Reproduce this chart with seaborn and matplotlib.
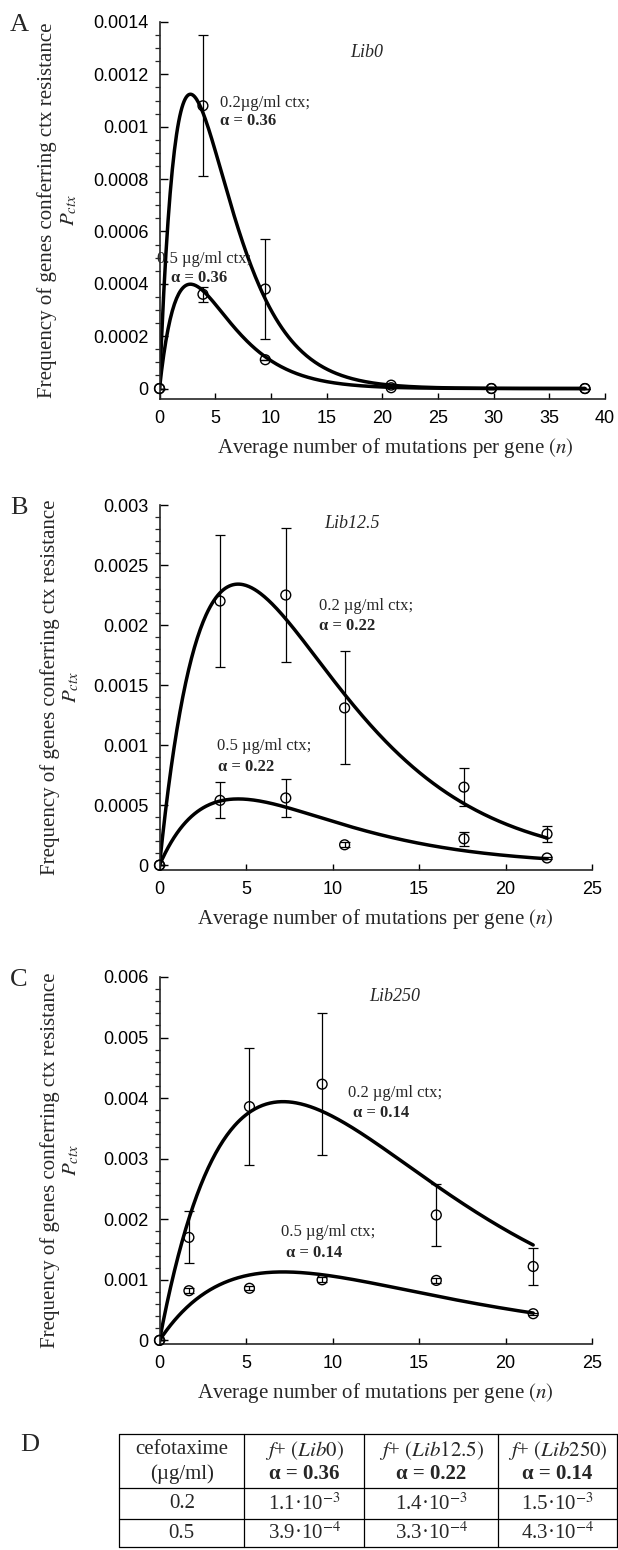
import numpy as np
import pandas as pd
import seaborn as sns
import matplotlib.pyplot as plt
from matplotlib.ticker import MultipleLocator, FuncFormatter

# ---- data ----
libs = ['Lib0', 'Lib12.5', 'Lib250']
alpha = [0.36, 0.22, 0.14]
conc = ['0.2', '0.5']
# f+ values from table D (per library)
f_plus_02 = [1.1e-3, 1.4e-3, 1.5e-3]
f_plus_05 = [3.9e-4, 3.3e-4, 4.3e-4]

# Lib0
n_lib0 = [0, 3.9, 9.5, 20.8, 29.8, 38.2]
p_lib0_02 = [0, 0.00108, 0.00038, 0.000013, 0, 0]
err_lib0_02 = [0, 0.00027, 0.00019, 0, 0, 0]
p_lib0_05 = [0, 0.00036, 0.00011, 0.000003, 0, 0]
err_lib0_05 = [0, 0.000028, 0, 0, 0, 0]

# Lib12.5
n_lib12 = [0, 3.5, 7.3, 10.7, 17.6, 22.4]
p_lib12_02 = [0, 0.00220, 0.00225, 0.00131, 0.00065, 0.00026]
err_lib12_02 = [0, 0.00055, 0.00056, 0.00047, 0.00016, 0.00007]
p_lib12_05 = [0, 0.00054, 0.00056, 0.00017, 0.00022, 0.00006]
err_lib12_05 = [0, 0.00015, 0.00016, 0.00002, 0.00006, 0.00001]

# Lib250
n_lib250 = [0, 1.7, 5.2, 9.4, 16.0, 21.6]
p_lib250_02 = [0, 0.00170, 0.00386, 0.00423, 0.00207, 0.00122]
err_lib250_02 = [0, 0.00043, 0.00097, 0.00117, 0.00052, 0.00031]
p_lib250_05 = [0, 0.00082, 0.00086, 0.00100, 0.00099, 0.00044]
err_lib250_05 = [0, 0.00004, 0.00003, 0.00004, 0.00004, 0.00002]

n_all = [n_lib0, n_lib12, n_lib250]
p02_all = [p_lib0_02, p_lib12_02, p_lib250_02]
e02_all = [err_lib0_02, err_lib12_02, err_lib250_02]
p05_all = [p_lib0_05, p_lib12_05, p_lib250_05]
e05_all = [err_lib0_05, err_lib12_05, err_lib250_05]

# ---- style ----
sns.set_style('ticks')
plt.rcParams['font.family'] = ['Liberation Sans', 'DejaVu Sans']
plt.rcParams['mathtext.fontset'] = 'stix'
SERIF = ['Liberation Serif', 'DejaVu Serif']

W, H = 618, 1550
fig = plt.figure(figsize=(W / 100, H / 100), dpi=100)


def px_axes(l, t, r, b):
    return fig.add_axes([l / W, 1 - b / H, (r - l) / W, (b - t) / H])


# layout per panel (pixel boxes, limits, ticks, annotation spots)
layout = [
    dict(letter='A', box=(159.5, 22, 605, 399), xmax=40, ylim=(-0.00004, 0.0014),
         ymaj=0.0002, ymin=0.00005, lib_xy=(18.6, 0.001285), xlab_x=0.53,
         t02='0.2µg/ml ctx;', t02_xy=(5.4, 0.00109), a02_xy=(5.4, 0.00102),
         t05_xy=(-0.2, 0.000495), a05_xy=(1.0, 0.000422)),
    dict(letter='B', box=(159.5, 505, 592, 870), xmax=25, ylim=(-0.00004, 0.003),
         ymaj=0.0005, ymin=0.0001, lib_xy=(11.1, 0.00285), xlab_x=0.5,
         t02='0.2 µg/ml ctx;', t02_xy=(9.2, 0.00216), a02_xy=(9.2, 0.00199),
         t05_xy=(3.35, 0.00099), a05_xy=(3.4, 0.00082)),
    dict(letter='C', box=(159.5, 977, 592, 1344), xmax=25, ylim=(-0.00006, 0.006),
         ymaj=0.001, ymin=0.0002, lib_xy=(13.6, 0.00567), xlab_x=0.5,
         t02='0.2 µg/ml ctx;', t02_xy=(10.9, 0.00409), a02_xy=(11.2, 0.00376),
         t05_xy=(7.0, 0.00179), a05_xy=(7.3, 0.00145)),
]

fmt = FuncFormatter(lambda v, pos: '{:g}'.format(round(v, 6)))

for i, L in enumerate(layout):
    ax = px_axes(*L['box'])
    n = n_all[i]
    # model curves P = f+ * n * exp(-alpha n) using the table parameters
    grid = np.linspace(0, max(n), 400)
    for fp in (f_plus_02[i], f_plus_05[i]):
        curve = pd.DataFrame({'n': grid, 'P': fp * grid * np.exp(-alpha[i] * grid)})
        sns.lineplot(data=curve, x='n', y='P', ax=ax, color='black', lw=2.5)
    for p, e in ((p02_all[i], e02_all[i]), (p05_all[i], e05_all[i])):
        ax.errorbar(n, p, yerr=e, fmt='none', ecolor='black', elinewidth=0.9,
                    capsize=3.3, capthick=0.9, zorder=2)
        sns.scatterplot(x=n, y=p, ax=ax, marker='o', s=50, facecolor='none',
                        edgecolor='black', linewidth=1.0, zorder=3, clip_on=False)

    ax.set_xlim(0, L['xmax'])
    ax.set_ylim(*L['ylim'])
    ax.xaxis.set_major_locator(MultipleLocator(5))
    ax.yaxis.set_major_locator(MultipleLocator(L['ymaj']))
    ax.yaxis.set_minor_locator(MultipleLocator(L['ymin']))
    ax.yaxis.set_major_formatter(fmt)
    ax.set_yticks([t for t in ax.get_yticks() if -1e-9 <= t <= L['ylim'][1] + 1e-9])
    ax.set_ylim(*L['ylim'])
    ax.tick_params(axis='both', direction='in', labelsize=13, width=1, colors='black')
    ax.tick_params(axis='y', which='major', length=6, pad=8)
    ax.tick_params(axis='y', which='minor', length=3.5, width=0.9)
    ax.tick_params(axis='x', which='major', length=4.5, pad=8)
    sns.despine(ax=ax)
    for s in ('left', 'bottom'):
        ax.spines[s].set_linewidth(1.2)

    box_h = L['box'][3] - L['box'][1]
    ax.set_xlabel('Average number of mutations per gene $\\mathit{(n)}$',
                  family=SERIF, fontsize=15)
    ax.xaxis.set_label_coords(L['xlab_x'], -37 / box_h)
    ax.set_ylabel('Frequency of genes conferring ctx resistance\n$P_{ctx}$',
                  family=SERIF, fontsize=15, linespacing=1.15)
    ax.yaxis.set_label_coords(-0.18, 0.5)

    ax.text(*L['lib_xy'], libs[i], family=SERIF, style='italic', fontsize=13,
            ha='center', va='center')
    ax.text(*L['t02_xy'], L['t02'], family=SERIF, fontsize=12, ha='left', va='center')
    ax.text(*L['a02_xy'], 'α = {:.2f}'.format(alpha[i]), family=SERIF, fontsize=12,
            weight='bold', ha='left', va='center')
    ax.text(*L['t05_xy'], '0.5 µg/ml ctx;', family=SERIF, fontsize=12, ha='left',
            va='center')
    ax.text(*L['a05_xy'], 'α = {:.2f}'.format(alpha[i]), family=SERIF, fontsize=12,
            weight='bold', ha='left', va='center')

    fig.text(19 / W, 1 - (L['box'][1] + 3) / H, L['letter'], family=SERIF,
             fontsize=19, ha='center', va='center')

# ---- table D ----
fig.text(30 / W, 1 - 1445 / H, 'D', family=SERIF, fontsize=19, ha='center', va='center')
tl, tt, tr, tb = 119.3, 1433, 617.5, 1548
tab = px_axes(tl, tt, tr, tb)
tab.set_xlim(tl, tr)
tab.set_ylim(tb, tt)
tab.axis('off')
col_edges = [tl, 244.3, 364, 498.3, tr - 0.6]
row_edges = [tt + 0.6, 1488.3, 1519, tb - 0.6]
for y in row_edges:
    tab.plot([col_edges[0], col_edges[-1]], [y, y], color='black', lw=0.9, clip_on=False)
for x in col_edges:
    tab.plot([x, x], [row_edges[0], row_edges[-1]], color='black', lw=0.9, clip_on=False)

centers = [(col_edges[k] + col_edges[k + 1]) / 2 for k in range(4)]
tkw = dict(family=SERIF, fontsize=15, ha='center', va='center')
tab.text(centers[0], 1450, 'cefotaxime', **tkw)
tab.text(centers[0], 1474, '(µg/ml)', **tkw)
for k in range(3):
    tab.text(centers[k + 1], 1450, '$\\mathit{f}$+ $\\mathit{(' + libs[k] + ')}$', **tkw)
    tab.text(centers[k + 1], 1474, 'α = {:.2f}'.format(alpha[k]), weight='bold', **tkw)


def sci(v):
    e = int(np.floor(np.log10(v)))
    return '{:.1f}·10$^{{{}}}$'.format(v / 10 ** e, e)


for r, (c, vals) in enumerate(zip(conc, (f_plus_02, f_plus_05))):
    y = (row_edges[r + 1] + row_edges[r + 2]) / 2
    tab.text(centers[0], y, c, **tkw)
    for k in range(3):
        tab.text(centers[k + 1], y, sci(vals[k]), **tkw)

fig.savefig('out.png', dpi=100)
